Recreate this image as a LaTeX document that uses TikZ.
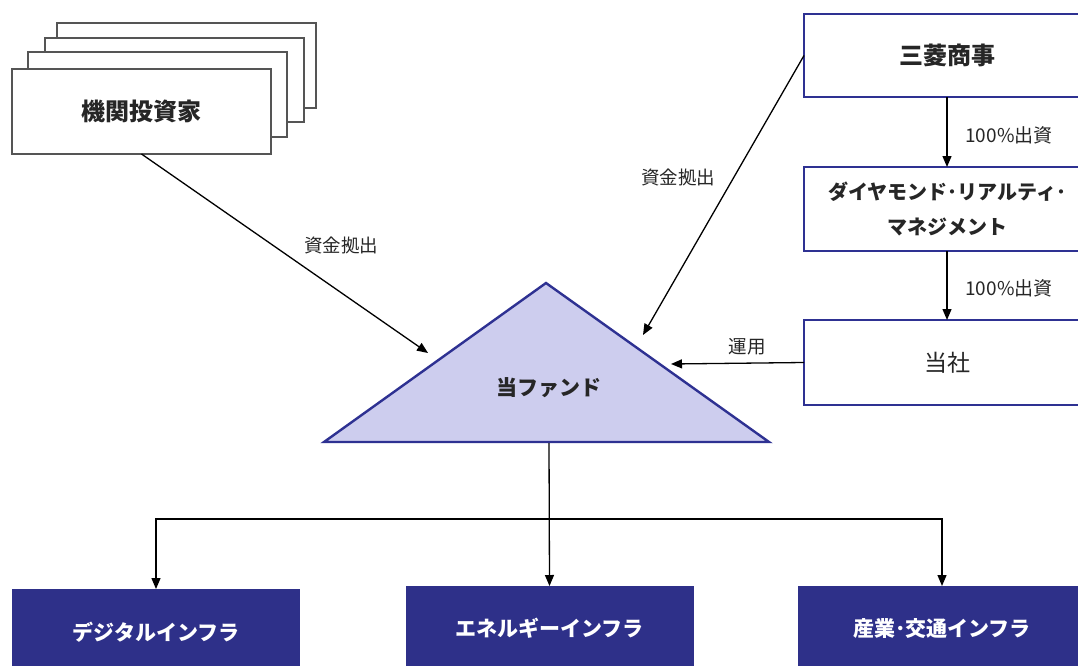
\documentclass[tikz,border=0pt]{standalone}
\usepackage{fontspec}
\newfontfamily\jp{Noto Sans CJK JP}
\usetikzlibrary{arrows.meta}
\definecolor{navy}{HTML}{2E3192}
\definecolor{navyfill}{HTML}{2E3089}
\definecolor{lav}{HTML}{CDCDEE}
\definecolor{graybd}{HTML}{555555}
\definecolor{txt}{HTML}{262626}
\begin{document}
\begin{tikzpicture}[x=1pt,y=-1pt,
  conn/.style={draw=black, line width=1.3pt, -{Triangle[length=11pt,width=9pt]}},
  invbox/.style={draw=graybd, fill=white, line width=2.4pt, minimum width=259pt, inner sep=0pt, outer sep=0pt,
    font=\jp\fontsize{24}{28}\selectfont\bfseries, text=txt},
  rbox/.style={draw=navy, fill=white, line width=2.4pt, minimum width=286pt, inner sep=0pt, outer sep=0pt,
    font=\jp\fontsize{24}{35}\selectfont\bfseries, text=txt, align=center},
  bbox/.style={draw=none, fill=navyfill, minimum width=288pt, inner sep=0pt, outer sep=0pt,
    font=\jp\fontsize{21}{26}\selectfont\bfseries, text=white},
  lbl/.style={font=\jp\fontsize{18.5}{22}\selectfont, text=txt, inner sep=0pt}
]
\useasboundingbox (0,0) rectangle (1078,666);
\fill[white] (0,0) rectangle (1078,666);

% investor stack
\node[invbox, minimum height=85pt] (inv4) at (186.5,65.5) {};
\node[invbox, minimum height=84pt] (inv3) at (174.5,80) {};
\node[invbox, minimum height=85pt] (inv2) at (157.5,94.5) {};
\node[invbox, minimum height=85pt] (inv) at (141.5,111.5) {機関投資家};

% right boxes
\node[rbox, minimum height=83pt] (mc) at (947,55.5) {三菱商事};
\node[rbox, minimum height=84pt, font=\jp\fontsize{20}{35}\selectfont\bfseries] (drm) at (947,209) {ダイヤモンド･リアルティ･\\マネジメント};
\node[rbox, minimum height=85pt, font=\jp\fontsize{23}{28}\selectfont] (tosha) at (947,362.5) {当社};

% fund triangle
\coordinate (tA) at (546,283);
\coordinate (tL) at (324,442);
\coordinate (tR) at (769,442);
\draw[fill=lav, draw=navy, line width=2.4pt, line join=miter] (tA) -- (tL) -- (tR) -- cycle;
\node[font=\jp\fontsize{21}{26}\selectfont\bfseries, text=txt] (fund) at (549,388) {当ファンド};
\coordinate (fundbase) at (549,443);
\coordinate (p1) at (428,353);
\coordinate (p2) at (643,335);
\coordinate (p3) at (671,364);

% bottom boxes
\node[bbox, minimum height=86pt] (b1) at (156,632) {デジタルインフラ};
\node[bbox, minimum height=84pt] (b2) at (549.5,628) {エネルギーインフラ};
\node[bbox, minimum height=86pt] (b3) at (942,629) {産業･交通インフラ};

% connectors
\draw[conn] (inv.south) -- (p1);
\draw[conn] (mc.west) -- (p2);
\draw[conn] (tosha.west) -- (p3);
\draw[conn] (mc.south) -- (drm.north);
\draw[conn] (drm.south) -- (tosha.north);
\coordinate (split) at (549,519);
\draw[conn] (fundbase) -- (b2.north);
\draw[conn] (split) -| (b1.north);
\draw[conn] (split) -| (b3.north);

% labels
\node[lbl] (l1) at (341,245) {資金拠出};
\node[lbl] (l2) at (678,177) {資金拠出};
\node[lbl] (l3) at (747,347) {運用};
\node[lbl, font=\jp\fontsize{19}{22}\selectfont] (l4) at (1009,135) {100\%出資};
\node[lbl, font=\jp\fontsize{19}{22}\selectfont] (l5) at (1009,288) {100\%出資};
\end{tikzpicture}
\end{document}
